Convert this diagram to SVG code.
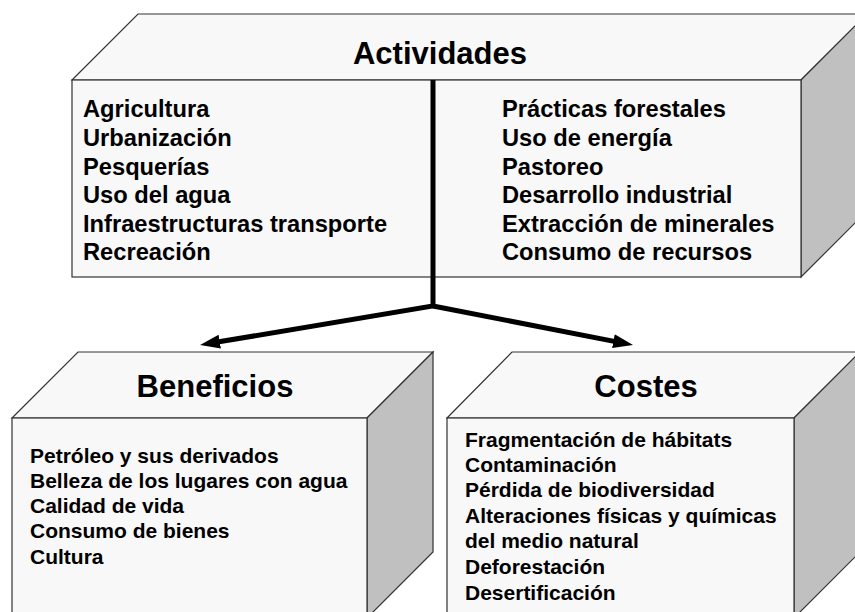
<svg xmlns="http://www.w3.org/2000/svg" width="855" height="612" viewBox="0 0 855 612">
<style>
.face{fill:#f8f8f8;stroke:#333;stroke-width:1.2}
.side{fill:#c0c0c0;stroke:#333;stroke-width:1.2}
text{font-family:"Liberation Sans",Arial,sans-serif;font-weight:bold;fill:#000}
.title{font-size:31px;text-anchor:middle}
.big{font-size:23.7px}
.small{font-size:21px}
.conn{fill:none;stroke:#000;stroke-width:5;stroke-linejoin:miter}
</style>
<defs>
<marker id="ah" markerUnits="userSpaceOnUse" markerWidth="20" markerHeight="14" refX="10" refY="7" orient="auto" viewBox="0 0 20 14">
<path d="M0,0 L20,7 L0,14 z" fill="#000"/>
</marker>
</defs>
<rect width="855" height="612" fill="#fff"/>
<g id="actividades">
<polygon class="face" points="72,80 138,14 867,14 801,80"/>
<polygon class="side" points="801,80 867,14 867,211 801,277"/>
<rect class="face" x="72" y="80" width="729" height="197"/>
<text class="title" x="440" y="64">Actividades</text>
<g class="big">
<text x="83" y="117">Agricultura</text>
<text x="83" y="146">Urbanización</text>
<text x="83" y="175">Pesquerías</text>
<text x="83" y="203">Uso del agua</text>
<text x="83" y="232">Infraestructuras transporte</text>
<text x="83" y="260">Recreación</text>
<text x="502" y="117">Prácticas forestales</text>
<text x="502" y="146">Uso de energía</text>
<text x="502" y="175">Pastoreo</text>
<text x="502" y="203">Desarrollo industrial</text>
<text x="502" y="232">Extracción de minerales</text>
<text x="502" y="260">Consumo de recursos</text>
</g>
</g>
<g id="beneficios">
<polygon class="face" points="12,418 78,352 433,352 367,418"/>
<polygon class="side" points="367,418 433,352 433,552 367,618"/>
<rect class="face" x="12" y="418" width="355" height="200"/>
<text class="title" x="215" y="397">Beneficios</text>
<g class="small">
<text x="30" y="463">Petróleo y sus derivados</text>
<text x="30" y="488">Belleza de los lugares con agua</text>
<text x="30" y="513">Calidad de vida</text>
<text x="30" y="538">Consumo de bienes</text>
<text x="30" y="564">Cultura</text>
</g>
</g>
<g id="costes">
<polygon class="face" points="447,418 512,352 860,352 794,418"/>
<polygon class="side" points="794,418 860,352 860,552 794,618"/>
<rect class="face" x="447" y="418" width="347" height="200"/>
<text class="title" x="646" y="397">Costes</text>
<g class="small">
<text x="465" y="447">Fragmentación de hábitats</text>
<text x="465" y="472">Contaminación</text>
<text x="465" y="497">Pérdida de biodiversidad</text>
<text x="465" y="523">Alteraciones físicas y químicas</text>
<text x="465" y="548">del medio natural</text>
<text x="465" y="574">Deforestación</text>
<text x="465" y="600">Desertificación</text>
</g>
</g>
<g id="connectors">
<path class="conn" d="M433,80 V306 L209.9,343.3" marker-end="url(#ah)"/>
<path class="conn" d="M433,306 L623.2,343.1" marker-end="url(#ah)"/>
</g>
</svg>
